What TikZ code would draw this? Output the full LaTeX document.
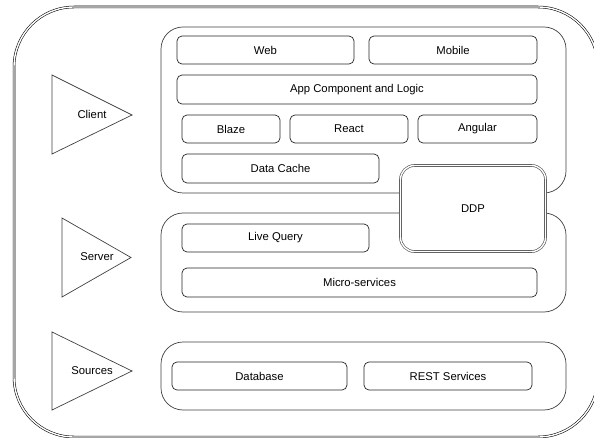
\documentclass[tikz,border=0pt]{standalone}
\usepackage{fontspec}
\setmainfont{Liberation Sans}
\begin{document}
\begin{tikzpicture}[x=1pt,y=-1pt,
  every node/.style={font=\fontsize{11.3}{13}\selectfont, text=black},
  box/.style={draw=black!85, line width=0.7pt, rounded corners=5pt, fill=white, inner sep=0pt},
  panel/.style={draw=black!75, line width=0.7pt, rounded corners=22pt, fill=white, inner sep=0pt},
  tri/.style={draw=black!75, line width=0.7pt},
  lbl/.style={inner sep=0pt}]
\useasboundingbox (0,0) rectangle (594,438);
\begin{scope}
\clip (0,0) rectangle (594,438);
\draw[draw=black, line width=0.55pt, double=white, double distance=1.4pt, rounded corners=60pt] (14,7) rectangle (598,437);
\end{scope}
% panels
\node[panel, minimum width=405pt, minimum height=166pt] (client) at (363.5,110) {};
\node[panel, minimum width=405pt, minimum height=99pt] (server) at (363.5,262.5) {};
\node[panel, minimum width=405pt, minimum height=68pt] (sources) at (363.5,376) {};
% client boxes
\node[box, minimum width=177pt, minimum height=28pt] (web) at (265.5,50) {Web};
\node[box, minimum width=168pt, minimum height=28pt] (mobile) at (453,50) {Mobile};
\node[box, minimum width=360pt, minimum height=29pt] (app) at (357,89.5) {App Component and Logic};
\node[box, minimum width=98pt, minimum height=28pt] (blaze) at (231,129) {Blaze};
\node[box, minimum width=118pt, minimum height=28pt] (react) at (349,129) {React};
\node[box, minimum width=119pt, minimum height=28pt] (angular) at (477.5,129) {Angular};
\node[box, minimum width=197pt, minimum height=29pt] (cache) at (280.5,168.5) {Data Cache};
% server boxes
\node[box, minimum width=187pt, minimum height=28pt] (live) at (275.5,238) {Live Query};
\node[box, minimum width=355pt, minimum height=29pt] (micro) at (359.5,282.5) {Micro-services};
% sources boxes
\node[box, minimum width=175pt, minimum height=28pt] (db) at (259.5,376) {Database};
\node[box, minimum width=168pt, minimum height=28pt] (rest) at (448,376) {REST Services};
% DDP
\node[draw=black!70, line width=0.6pt, double=white, double distance=1.4pt, rounded corners=14pt, fill=white, inner sep=0pt, minimum width=145pt, minimum height=86pt] (ddp) at (473,208.5) {DDP};
% triangles
\draw[tri] (52,75) -- (132,115) -- (52,154) -- cycle;
\node[lbl] (lclient) at (92,114) {Client};
\draw[tri] (62,218) -- (131,257.5) -- (62,297) -- cycle;
\node[lbl] (lserver) at (97,257) {Server};
\draw[tri] (52,332) -- (132,371) -- (52,410) -- cycle;
\node[lbl] (lsources) at (92,371) {Sources};
\end{tikzpicture}
\end{document}
